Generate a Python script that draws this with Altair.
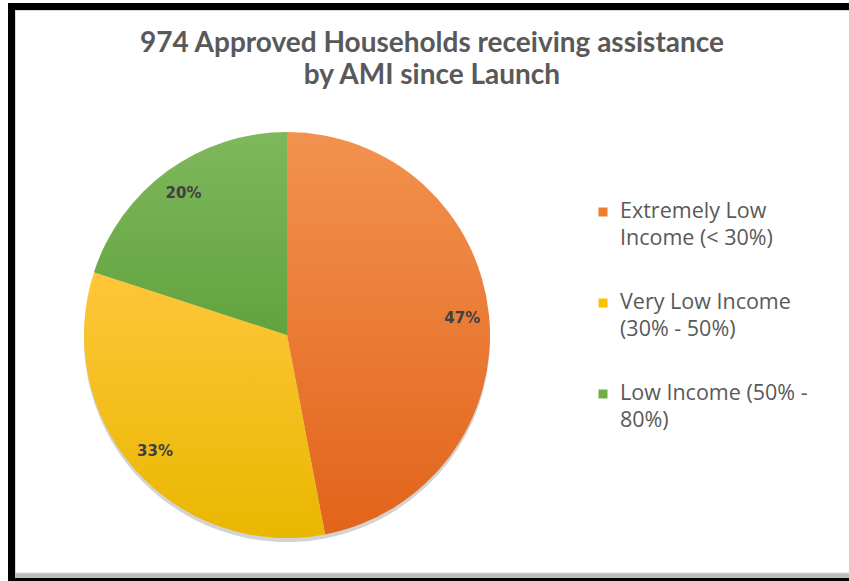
import altair as alt
import pandas as pd

# ---- data ----
categories = ["Extremely Low Income (< 30%)", "Very Low Income (30% - 50%)", "Low Income (50% - 80%)"]
legend_labels = ["Extremely Low\nIncome (< 30%)", "Very Low Income\n(30% - 50%)", "Low Income (50% -\n80%)"]
shares = [47, 33, 20]
share_labels = ["47%", "33%", "20%"]
colors = ["#ED7D31", "#FFC000", "#70AD47"]
grad_top = ["#F2924F", "#FFC63A", "#7EB85C"]
grad_bottom = ["#E2641A", "#E9B700", "#62A33E"]
title_lines = ["974 Approved Households receiving assistance", "by AMI since Launch"]

df = pd.DataFrame({
    "cat": categories,
    "legend": legend_labels,
    "share": shares,
    "label": share_labels,
    "idx": list(range(len(categories))),
})

W, H = 849, 581
CX, CY, R = 287, 335, 203

def grad(i):
    return {
        "gradient": "linear", "x1": 0, "y1": 0, "x2": 0, "y2": 1,
        "stops": [{"offset": 0, "color": grad_top[i]}, {"offset": 1, "color": grad_bottom[i]}],
    }

one = pd.DataFrame({"a": [0]})

frame_black = alt.Chart(one).mark_rect(fill="#000000").encode(
    x=alt.value(8), x2=alt.value(W + 10), y=alt.value(3), y2=alt.value(H + 10))
frame_gray = alt.Chart(one).mark_rect(fill="#BDBDBD").encode(
    x=alt.value(15), x2=alt.value(W + 10), y=alt.value(10), y2=alt.value(578))
frame_white = alt.Chart(one).mark_rect(fill="#FFFFFF", stroke="#D9D9D9", strokeWidth=1).encode(
    x=alt.value(15.5), x2=alt.value(W + 10), y=alt.value(10.5), y2=alt.value(573))

theta_scale = alt.Scale(domain=[0, 100])

base = alt.Chart(df).transform_window(
    cum="sum(share)", sort=[alt.SortField("idx")]
).transform_calculate(
    start="datum.cum - datum.share", mid="datum.cum - datum.share / 2"
)

shadow = base.mark_arc(radius=R, fill="#808080", opacity=0.35).encode(
    theta=alt.Theta("start:Q", scale=theta_scale, stack=None),
    theta2="cum:Q",
    x=alt.value(CX), y=alt.value(CY + 4),
)

fill = (
    alt.when(alt.datum.idx == 0).then(alt.value(grad(0)))
    .when(alt.datum.idx == 1).then(alt.value(grad(1)))
    .otherwise(alt.value(grad(2)))
)

pie = base.mark_arc(radius=R).encode(
    theta=alt.Theta("start:Q", scale=theta_scale, stack=None),
    theta2="cum:Q",
    fill=fill,
    x=alt.value(CX), y=alt.value(CY),
    tooltip=["cat:N", "label:N"],
)

pct = base.mark_text(radius=176, font="DejaVu Sans", fontWeight="bold", fontSize=15,
                     color="#404040", align="center", baseline="middle").encode(
    theta=alt.Theta("mid:Q", scale=theta_scale, stack=None),
    text="label:N",
    x=alt.value(CX), y=alt.value(CY),
)

leg_y = alt.Y("cat:N", scale=alt.Scale(type="point", domain=categories, range=[212, 394], padding=0), axis=None)

leg_sq = alt.Chart(df).mark_square(size=81, opacity=1).encode(
    x=alt.value(603),
    y=leg_y,
    color=alt.Color("cat:N", scale=alt.Scale(domain=categories, range=colors), legend=None),
)

leg_txt = alt.Chart(df).mark_text(align="left", baseline="middle", lineBreak="\n", lineHeight=27,
                                  font="Open Sans", fontSize=21.5, color="#595959").encode(
    x=alt.value(620),
    y=leg_y,
    text="legend:N",
)

title = alt.Chart(one).mark_text(align="center", baseline="alphabetic", lineHeight=32,
                                 font="Lato", fontWeight="bold", fontSize=28, color="#595959").encode(
    x=alt.value(432), y=alt.value(52), text=alt.value(title_lines))

chart = alt.layer(
    frame_black, frame_gray, frame_white, shadow, pie, pct, leg_sq, leg_txt, title
).properties(
    width=W, height=H, padding=0, autosize=alt.AutoSizeParams(type="none")
).configure_view(stroke=None)

chart.save("out.html", embed_options={"renderer": "svg", "actions": False})
